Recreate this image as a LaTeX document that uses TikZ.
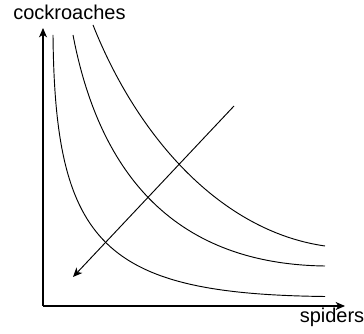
\documentclass[tikz,border=0pt]{standalone}
\usepackage{fontspec}
\setmainfont{Liberation Sans}
\usetikzlibrary{arrows.meta}
\begin{document}
\begin{tikzpicture}[x=0.75pt,y=-0.75pt,
  axisline/.style={line width=0.9pt,-{Stealth[length=7pt,width=6pt,inset=2pt]}},
  curveline/.style={line width=0.7pt},
  shiftarrow/.style={line width=0.7pt,-{Stealth[length=7pt,width=6pt,inset=2pt]}},
  lbl/.style={inner sep=0pt,font=\fontsize{15pt}{18pt}\selectfont}]
\useasboundingbox (0,0) rectangle (364,334);
\coordinate (O) at (43,306);
\coordinate (ytop) at (43,28);
\coordinate (xend) at (345,306);
\coordinate (astart) at (234,106);
\coordinate (aend) at (73,277);
\coordinate (c1s) at (53,35);
\coordinate (c1e) at (325,296.5);
\coordinate (c2s) at (73,35);
\coordinate (c2e) at (325,266);
\coordinate (c3s) at (93,25);
\coordinate (c3e) at (325,246);
\draw[axisline] (O) -- (ytop);
\draw[axisline] (O) -- (xend);
\node[lbl,anchor=base west] (ylabel) at (13,19.7) {cockroaches};
\node[lbl,anchor=base west] (xlabel) at (299.5,323) {spiders};
\draw[curveline] (c1s) .. controls (55,245) and (104,294) .. (c1e);
\draw[curveline] (c2s) .. controls (98,166) and (168,264) .. (c2e);
\draw[curveline] (c3s) .. controls (137,136) and (220,231) .. (c3e);
\draw[shiftarrow] (astart) -- (aend);
\end{tikzpicture}
\end{document}
